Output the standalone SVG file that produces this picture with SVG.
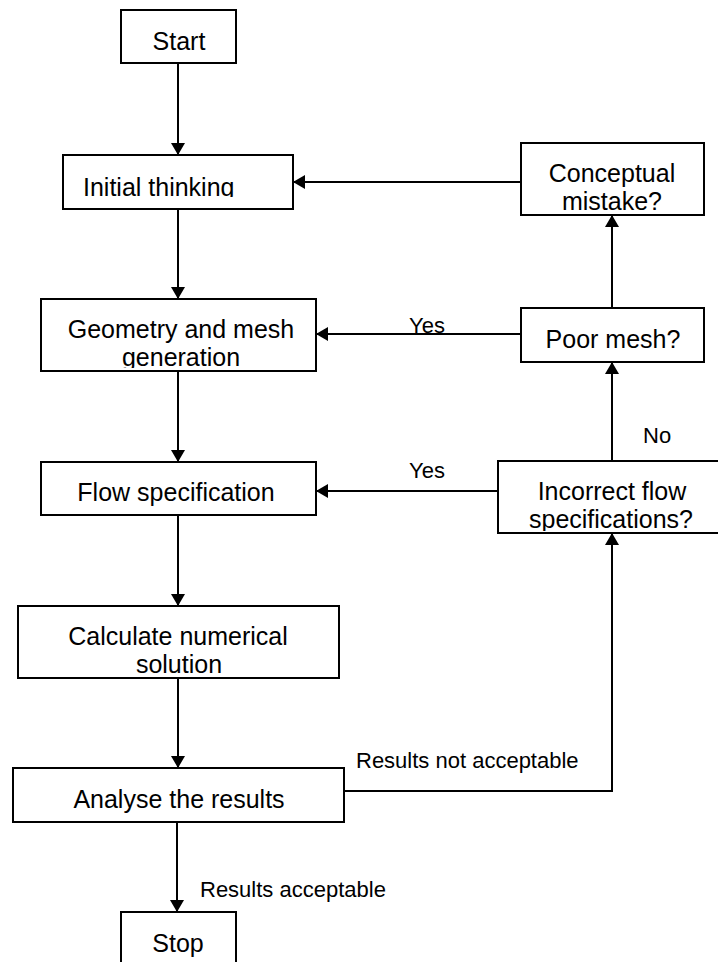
<svg xmlns="http://www.w3.org/2000/svg" width="718" height="962" viewBox="0 0 718 962">
<style>
.box{fill:#fff;stroke:#000;stroke-width:2}
.t{font-family:"Liberation Sans",Arial,sans-serif;font-size:25px;fill:#000;text-anchor:middle}
.l{font-family:"Liberation Sans",Arial,sans-serif;font-size:22px;fill:#000}
.c{fill:none;stroke:#000;stroke-width:2;marker-end:url(#ah)}
</style>
<defs>
<marker id="ah" markerUnits="userSpaceOnUse" markerWidth="14" markerHeight="14" refX="12" refY="7" orient="auto">
<path d="M0,0 L12,7 L0,14 z" fill="#000"/>
</marker>
<clipPath id="cInit"><rect x="63" y="150" width="230" height="47"/></clipPath>
<clipPath id="cGeo"><rect x="41" y="295" width="275" height="73"/></clipPath>
<clipPath id="cInc"><rect x="498" y="455" width="228" height="76"/></clipPath>
</defs>
<rect width="718" height="962" fill="#fff"/>
<g id="connectors">
<path class="c" d="M178,63 V155"/>
<path class="c" d="M178,209 V299"/>
<path class="c" d="M178,371 V462"/>
<path class="c" d="M178,515 V606"/>
<path class="c" d="M178,678 V768"/>
<path class="c" d="M177,822 V912"/>
<path class="c" d="M344,791 H612 V533"/>
<path class="c" d="M612,461 V362"/>
<path class="c" d="M612,308 V215"/>
<path class="c" d="M521,182 H293"/>
<path class="c" d="M521,334 H316"/>
<path class="c" d="M498,491 H316"/>
<text class="l" x="409" y="333">Yes</text>
<text class="l" x="409" y="478">Yes</text>
<text class="l" x="643" y="443">No</text>
<text class="l" x="356" y="768">Results not acceptable</text>
<text class="l" x="200" y="897">Results acceptable</text>
</g>
<g id="start"><rect class="box" x="121" y="10" width="115" height="53"/><text class="t" x="179" y="50">Start</text></g>
<g id="init"><rect class="box" x="63" y="155" width="230" height="54"/><text class="t" x="83" y="196" style="text-anchor:start" clip-path="url(#cInit)">Initial thinking</text></g>
<g id="geometry"><rect class="box" x="41" y="299" width="275" height="72"/><g clip-path="url(#cGeo)"><text class="t" x="181" y="338">Geometry and mesh</text><text class="t" x="181" y="366">generation</text></g></g>
<g id="flow"><rect class="box" x="41" y="462" width="275" height="53"/><text class="t" x="176" y="501">Flow specification</text></g>
<g id="calculate"><rect class="box" x="18" y="606" width="321" height="72"/><text class="t" x="178" y="645">Calculate numerical</text><text class="t" x="179" y="673">solution</text></g>
<g id="analyse"><rect class="box" x="13" y="768" width="331" height="54"/><text class="t" x="179" y="808">Analyse the results</text></g>
<g id="stop"><rect class="box" x="121" y="912" width="115" height="60"/><text class="t" x="178" y="952">Stop</text></g>
<g id="conceptual"><rect class="box" x="521" y="143" width="183" height="72"/><text class="t" x="612" y="182">Conceptual</text><text class="t" x="612" y="210">mistake?</text></g>
<g id="poormesh"><rect class="box" x="521" y="308" width="183" height="54"/><text class="t" x="613" y="348">Poor mesh?</text></g>
<g id="incorrect"><rect class="box" x="498" y="461" width="228" height="72"/><g clip-path="url(#cInc)"><text class="t" x="612" y="500">Incorrect flow</text><text class="t" x="611" y="528">specifications?</text></g></g>
</svg>
